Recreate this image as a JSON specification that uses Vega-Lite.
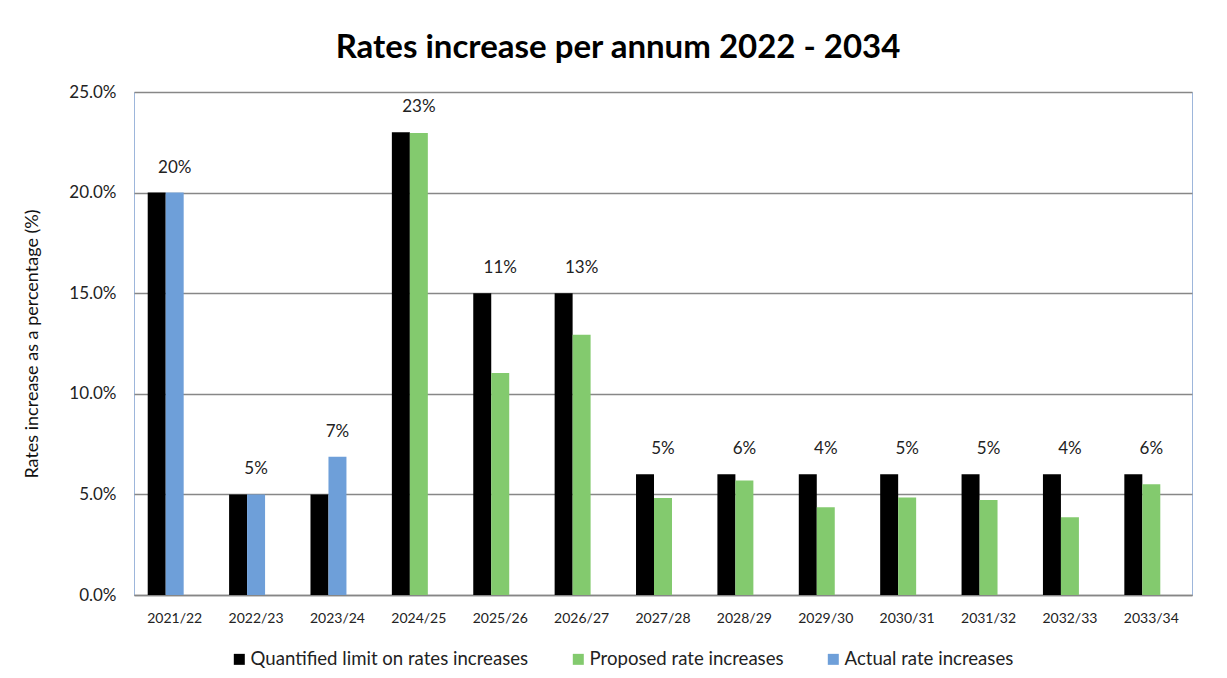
{
  "$schema": "https://vega.github.io/schema/vega-lite/v6.json",
  "autosize": "none",
  "width": 1058,
  "height": 503,
  "padding": {"left": 134, "top": 92, "right": 35, "bottom": 83},
  "background": "white",
  "title": {"text": "Rates increase per annum 2022 - 2034", "font": "Lato", "fontSize": 33, "fontWeight": "bold", "color": "#000000", "anchor": "middle", "dx": -45, "offset": 18},
  "config": {
    "view": {"stroke": "#9DB6DB", "strokeWidth": 1},
    "font": "Lato"
  },
  "data": {"values": [
    {"year": "2021/22", "series": "Quantified limit on rates increases", "kind": "limit", "value": 0.20},
    {"year": "2021/22", "series": "Actual rate increases", "kind": "increase", "value": 0.20},
    {"year": "2022/23", "series": "Quantified limit on rates increases", "kind": "limit", "value": 0.05},
    {"year": "2022/23", "series": "Actual rate increases", "kind": "increase", "value": 0.05},
    {"year": "2023/24", "series": "Quantified limit on rates increases", "kind": "limit", "value": 0.05},
    {"year": "2023/24", "series": "Actual rate increases", "kind": "increase", "value": 0.0687},
    {"year": "2024/25", "series": "Quantified limit on rates increases", "kind": "limit", "value": 0.23},
    {"year": "2024/25", "series": "Proposed rate increases", "kind": "increase", "value": 0.2296},
    {"year": "2025/26", "series": "Quantified limit on rates increases", "kind": "limit", "value": 0.15},
    {"year": "2025/26", "series": "Proposed rate increases", "kind": "increase", "value": 0.1104},
    {"year": "2026/27", "series": "Quantified limit on rates increases", "kind": "limit", "value": 0.15},
    {"year": "2026/27", "series": "Proposed rate increases", "kind": "increase", "value": 0.1293},
    {"year": "2027/28", "series": "Quantified limit on rates increases", "kind": "limit", "value": 0.06},
    {"year": "2027/28", "series": "Proposed rate increases", "kind": "increase", "value": 0.0482},
    {"year": "2028/29", "series": "Quantified limit on rates increases", "kind": "limit", "value": 0.06},
    {"year": "2028/29", "series": "Proposed rate increases", "kind": "increase", "value": 0.0569},
    {"year": "2029/30", "series": "Quantified limit on rates increases", "kind": "limit", "value": 0.06},
    {"year": "2029/30", "series": "Proposed rate increases", "kind": "increase", "value": 0.0436},
    {"year": "2030/31", "series": "Quantified limit on rates increases", "kind": "limit", "value": 0.06},
    {"year": "2030/31", "series": "Proposed rate increases", "kind": "increase", "value": 0.0485},
    {"year": "2031/32", "series": "Quantified limit on rates increases", "kind": "limit", "value": 0.06},
    {"year": "2031/32", "series": "Proposed rate increases", "kind": "increase", "value": 0.0472},
    {"year": "2032/33", "series": "Quantified limit on rates increases", "kind": "limit", "value": 0.06},
    {"year": "2032/33", "series": "Proposed rate increases", "kind": "increase", "value": 0.0386},
    {"year": "2033/34", "series": "Quantified limit on rates increases", "kind": "limit", "value": 0.06},
    {"year": "2033/34", "series": "Proposed rate increases", "kind": "increase", "value": 0.0550}
  ]},
  "encoding": {
    "x": {
      "field": "year", "type": "nominal", "sort": null,
      "scale": {"paddingInner": 0.337, "paddingOuter": 0.1685},
      "axis": {"title": null, "labelAngle": 0, "labelFont": "Lato", "labelFontSize": 14, "labelColor": "#222222", "labelPadding": 16, "ticks": false, "domainColor": "#868686", "domainWidth": 1.5, "grid": false}
    },
    "y": {
      "field": "value", "type": "quantitative",
      "scale": {"domain": [0, 0.25], "nice": false},
      "axis": {"title": "Rates increase as a percentage (%)", "titleFont": "Lato", "titleFontSize": 18, "titleFontWeight": "normal", "titleColor": "#111111", "titlePadding": 27, "values": [0, 0.05, 0.1, 0.15, 0.2, 0.25], "format": ".1%", "labelFont": "Lato", "labelFontSize": 17, "labelColor": "#222222", "labelPadding": 18, "ticks": false, "domain": false, "grid": true, "gridColor": "#878787", "gridWidth": 1.5}
    }
  },
  "layer": [
    {
      "mark": {"type": "bar"},
      "encoding": {
        "xOffset": {"field": "kind", "type": "nominal", "scale": {"domain": ["limit", "increase", "empty"], "paddingInner": 0, "paddingOuter": 0}},
        "color": {
          "field": "series", "type": "nominal",
          "scale": {"domain": ["Quantified limit on rates increases", "Proposed rate increases", "Actual rate increases"], "range": ["#000000", "#83CA6E", "#6E9FD9"]},
          "legend": {"title": null, "orient": "none", "legendX": 96, "legendY": 558, "direction": "horizontal", "symbolType": "square", "symbolSize": 121, "symbolStrokeWidth": 0, "labelFont": "Lato", "labelFontSize": 18.6, "labelColor": "#222222", "labelOffset": 2, "labelLimit": 0, "columnPadding": 40}
        }
      }
    },
    {
      "transform": [
        {"joinaggregate": [{"op": "max", "field": "value", "as": "groupMax"}], "groupby": ["year"]},
        {"filter": "datum.kind === 'increase'"}
      ],
      "mark": {"type": "text", "font": "Lato", "fontSize": 17, "color": "#222222", "baseline": "middle", "dy": -25},
      "encoding": {
        "y": {"field": "groupMax", "type": "quantitative"},
        "text": {"field": "value", "type": "quantitative", "format": ".0%"}
      }
    }
  ]
}
